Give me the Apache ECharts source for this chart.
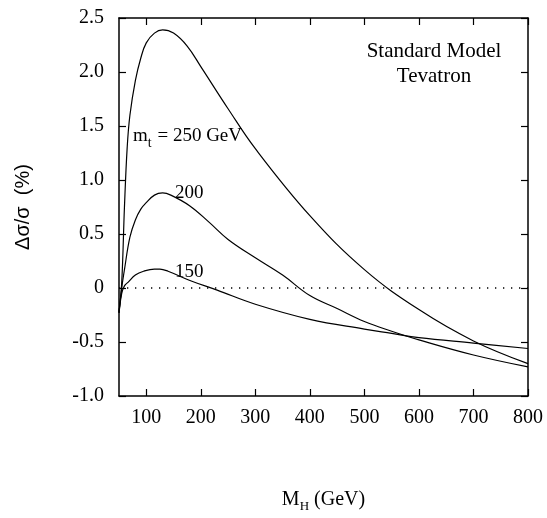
<!DOCTYPE html>
<html>
<head>
<meta charset="utf-8">
<script src="https://cdn.jsdelivr.net/npm/echarts@6/dist/echarts.min.js"></script>
<style>
html,body{margin:0;padding:0;background:#fff;}
#main{width:547px;height:518px;}
</style>
</head>
<body>
<div id="main"></div>
<script>
// values, Δσ/σ in %
var mH250 = [50, 55, 60, 65, 70, 80, 90, 100, 115, 130, 150, 175, 200, 250, 300, 400, 500, 600, 700, 800];
var d250 = [-0.23, 0.05, 0.75, 1.3, 1.6, 1.92, 2.13, 2.27, 2.36, 2.39, 2.36, 2.24, 2.05, 1.66, 1.29, 0.67, 0.17, -0.2, -0.49, -0.7];
var mH200 = [50, 55, 60, 70, 80, 90, 100, 115, 130, 145, 180, 215, 250, 300, 350, 400, 450, 500, 550, 600, 700, 800];
var d200 = [-0.22, 0.0, 0.17, 0.47, 0.63, 0.73, 0.79, 0.86, 0.88, 0.86, 0.76, 0.61, 0.45, 0.28, 0.12, -0.07, -0.19, -0.31, -0.4, -0.48, -0.62, -0.73];
var mH150 = [50, 55, 60, 67, 80, 95, 115, 125, 140, 180, 230, 300, 400, 500, 550, 600, 700, 800];
var d150 = [-0.23, -0.05, 0.02, 0.055, 0.12, 0.155, 0.175, 0.175, 0.155, 0.07, -0.02, -0.15, -0.29, -0.38, -0.42, -0.46, -0.51, -0.56];
var zeroLine = [[50, 0], [800, 0]];
var xTicks = [100, 200, 300, 400, 500, 600, 700, 800];

function pairs(xs, ys){
	var out = [];
	for(var i = 0; i < xs.length; i++){
		out.push([xs[i], ys[i]]);
	}
	return out;
}

var serif = '"Liberation Serif", "DejaVu Serif", serif';
var myChart = echarts.init(document.getElementById('main'));

function curve(name, data){
	return {
		name: name,
		type: 'line',
		data: data,
		smooth: 0.4,
		showSymbol: false,
		lineStyle: {color: '#000', width: 1.2},
		silent: true
	};
}

var option = {
	animation: false,
	backgroundColor: '#fff',
	grid: {left: 119, right: 19, top: 18, bottom: 111},
	xAxis: [
		{
			type: 'value',
			min: 50,
			max: 800,
			name: '{m|M}{s|H}{m| (GeV)}',
			nameLocation: 'middle',
			nameGap: 90,
			nameTextStyle: {
				rich: {
					m: {fontFamily: serif, fontSize: 20, color: '#000'},
					s: {fontFamily: serif, fontSize: 13, color: '#000', padding: [14, 0, 0, 0]}
				}
			},
			axisLine: {onZero: false, lineStyle: {color: '#000', width: 1.5}},
			axisTick: {inside: true, length: 7, customValues: xTicks, lineStyle: {color: '#000', width: 1.2}},
			axisLabel: {customValues: xTicks, color: '#000', fontFamily: serif, fontSize: 20, margin: 12},
			splitLine: {show: false}
		},
		{
			type: 'value',
			position: 'top',
			min: 50,
			max: 800,
			axisLine: {onZero: false, lineStyle: {color: '#000', width: 1.5}},
			axisTick: {inside: true, length: 7, customValues: xTicks, lineStyle: {color: '#000', width: 1.2}},
			axisLabel: {show: false},
			splitLine: {show: false}
		}
	],
	yAxis: [
		{
			type: 'value',
			min: -1,
			max: 2.5,
			interval: 0.5,
			name: 'Δσ/σ  (%)',
			nameLocation: 'middle',
			nameGap: 86,
			nameRotate: 90,
			nameTextStyle: {color: '#000', fontFamily: '"Liberation Sans", Arial, sans-serif', fontSize: 20},
			axisLine: {onZero: false, lineStyle: {color: '#000', width: 1.5}},
			axisTick: {inside: true, length: 7, lineStyle: {color: '#000', width: 1.2}},
			axisLabel: {
				color: '#000', fontFamily: serif, fontSize: 20, margin: 15,
				formatter: function(v){ return v === 0 ? '0' : v.toFixed(1); }
			},
			splitLine: {show: false}
		},
		{
			type: 'value',
			position: 'right',
			min: -1,
			max: 2.5,
			interval: 0.5,
			axisLine: {show: true, onZero: false, lineStyle: {color: '#000', width: 1.5}},
			axisTick: {show: true, inside: true, length: 7, lineStyle: {color: '#000', width: 1.2}},
			axisLabel: {show: false},
			splitLine: {show: false}
		}
	],
	series: [
		{
			name: 'zero',
			type: 'line',
			data: zeroLine,
			showSymbol: false,
			lineStyle: {color: '#000', width: 1.3, type: [1.3, 6.7]},
			silent: true
		},
		curve('250', pairs(mH250, d250)),
		curve('200', pairs(mH200, d200)),
		curve('150', pairs(mH150, d150))
	],
	graphic: [
		{
			type: 'text', left: 133, top: 127,
			style: {
				text: '{m|m}{s|t}{m| = 250 GeV}',
				rich: {
					m: {fontFamily: serif, fontSize: 19, fill: '#000'},
					s: {fontFamily: serif, fontSize: 14, fill: '#000', padding: [14, 1, 0, 0]}
				}
			}
		},
		{type: 'text', left: 175, top: 184, style: {text: '200', fontFamily: serif, fontSize: 19, fill: '#000'}},
		{type: 'text', left: 175, top: 263, style: {text: '150', fontFamily: serif, fontSize: 19, fill: '#000'}},
		{
			type: 'text', x: 434, y: 39,
			style: {
				text: 'Standard Model\nTevatron', align: 'center',
				fontFamily: serif, fontSize: 21, lineHeight: 25, fill: '#000'
			}
		}
	]
};
myChart.setOption(option);
</script>
</body>
</html>
